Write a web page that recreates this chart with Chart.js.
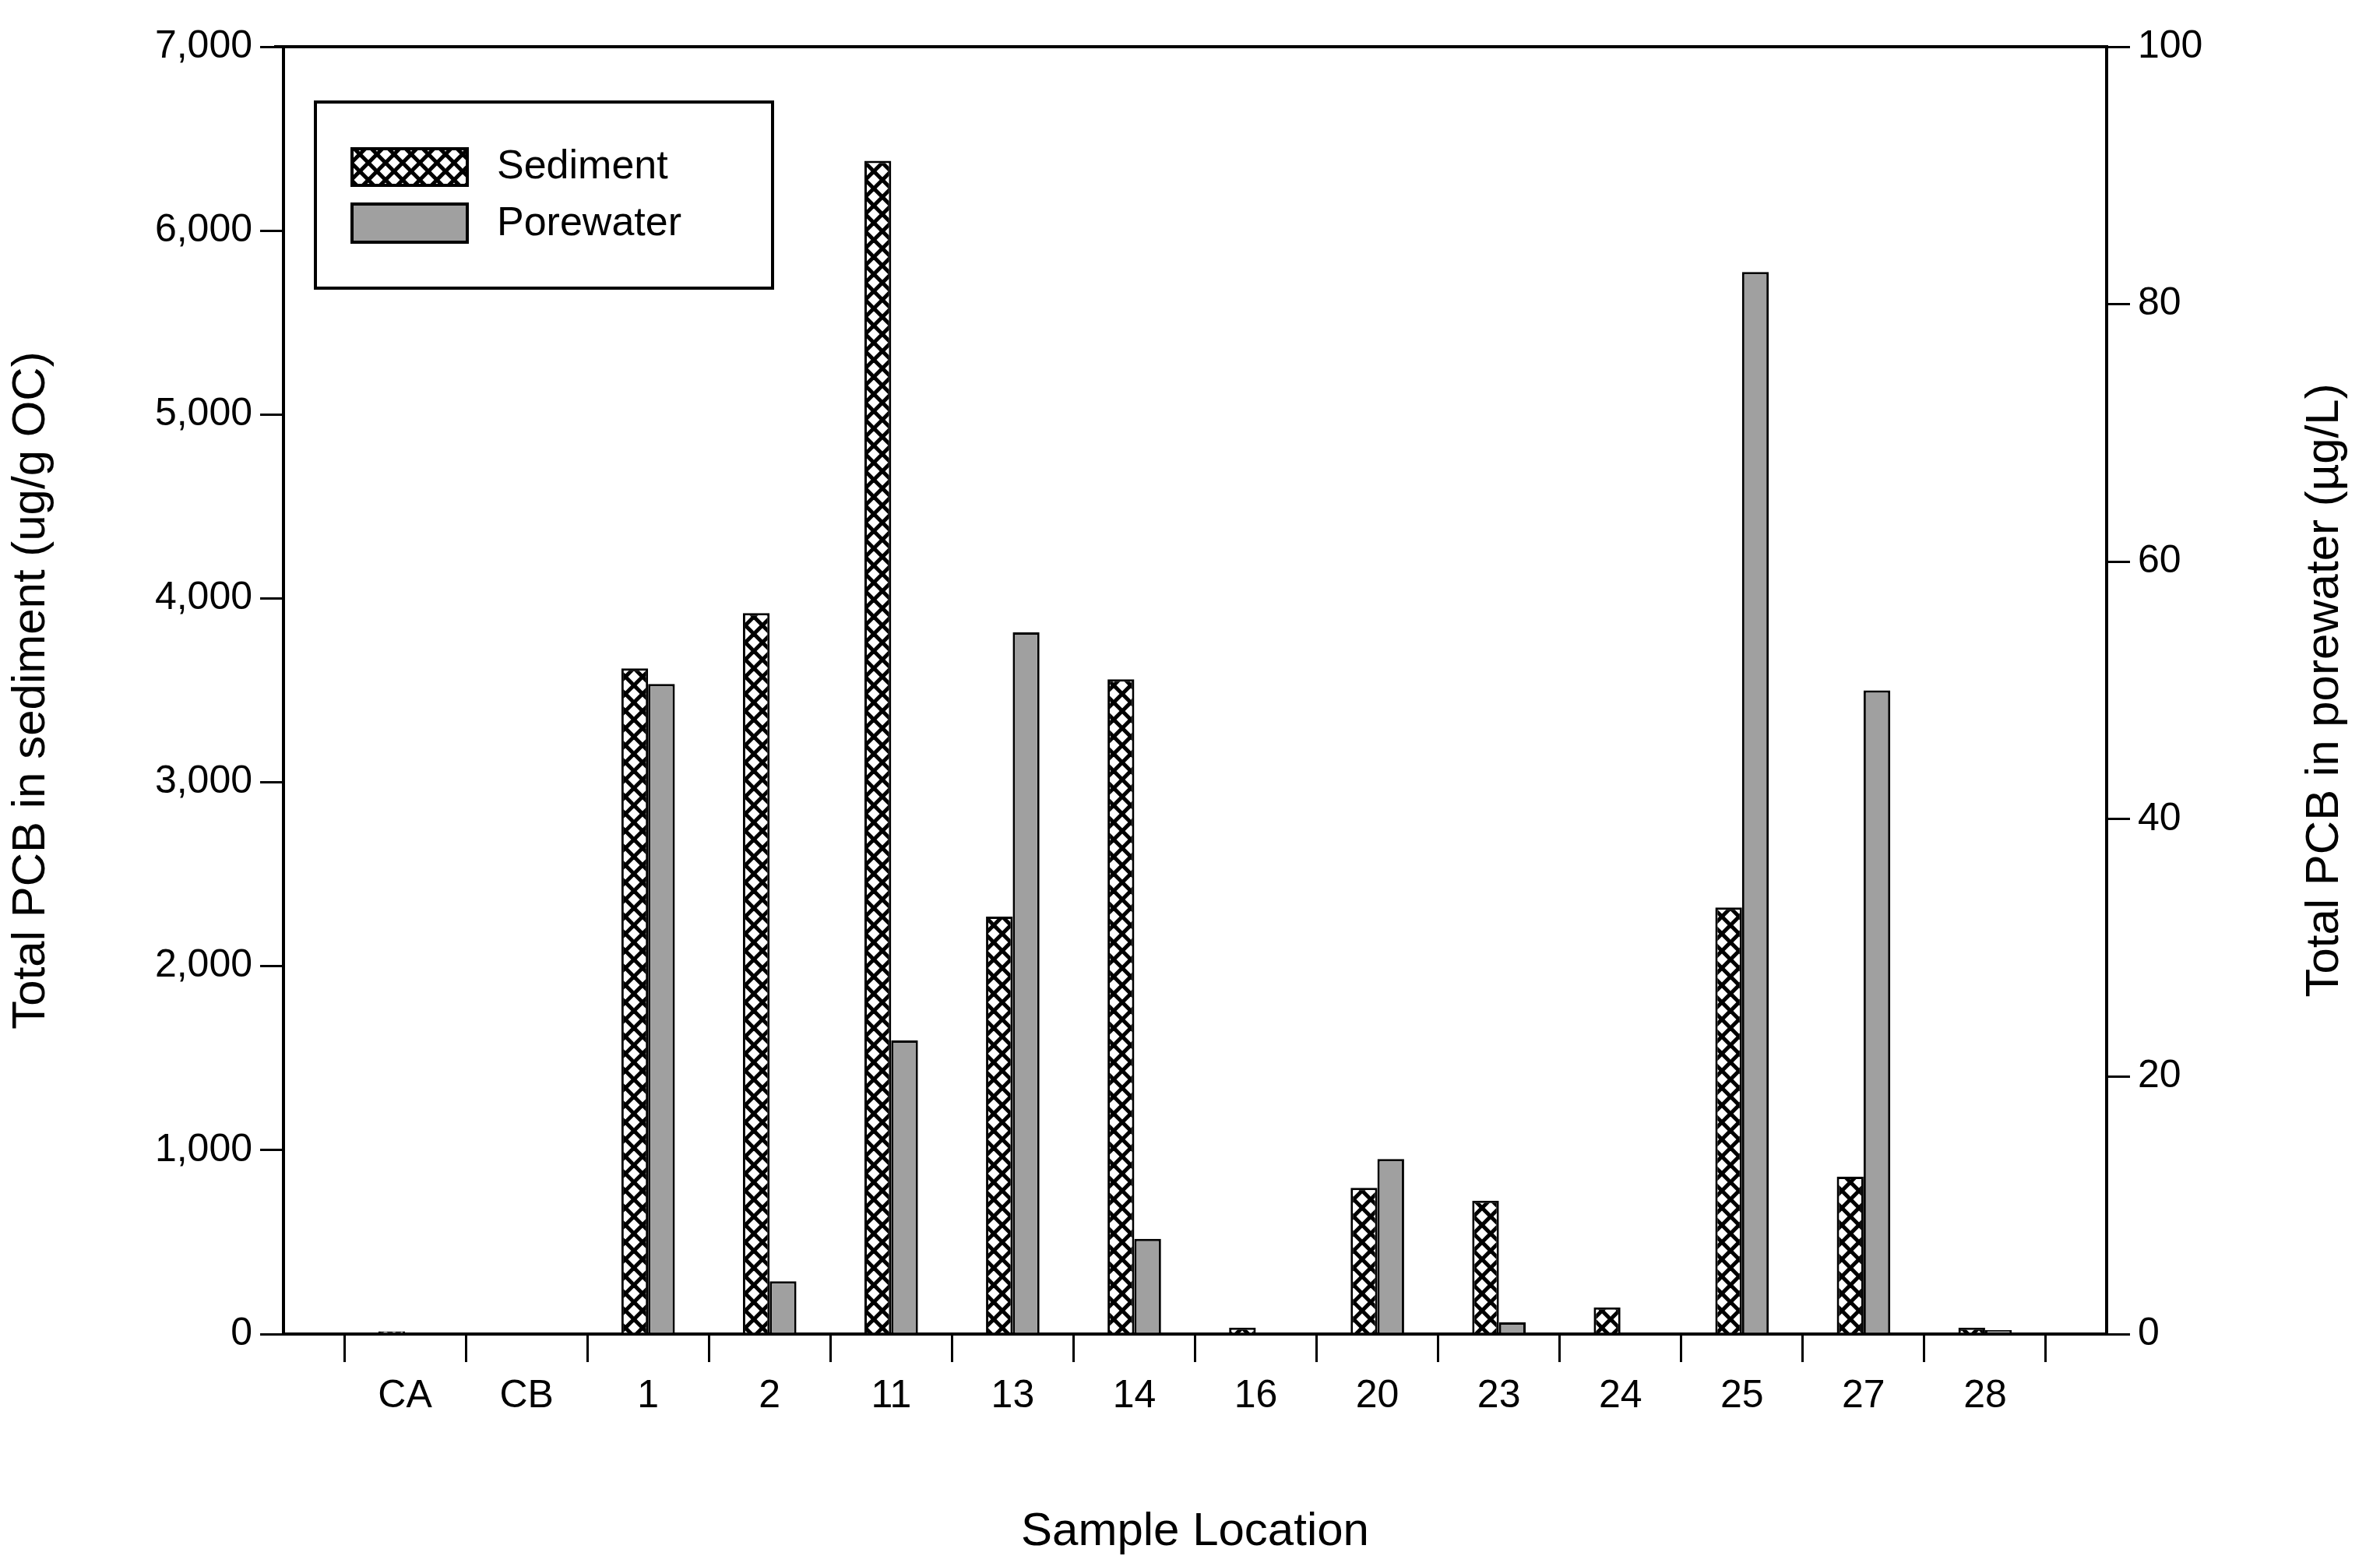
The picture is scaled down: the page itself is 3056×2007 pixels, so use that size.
<!DOCTYPE html>
<html><head><meta charset="utf-8">
<script src="https://cdn.jsdelivr.net/npm/chart.js@4"></script>
<style>html,body{margin:0;padding:0;background:#fff}#w{width:3056px;height:2007px}</style>
</head><body><div id="w"><canvas id="c"></canvas></div>
<script>
const categories = ['CA','CB','1','2','11','13','14','16','20','23','24','25','27','28'];
const sediment = [15,0,3620,3920,6380,2270,3560,35,795,725,145,2320,855,35];
const porewater = [0,0,50.5,4.1,22.8,54.5,7.4,0,13.6,0.9,0,82.5,50,0.3];
const leftTicks = [0,1000,2000,3000,4000,5000,6000,7000];
const rightTicks = [0,20,40,60,80,100];

const FONT = "'Liberation Sans', Arial, sans-serif";
function hatch(){
  const s=22, p=document.createElement('canvas'); p.width=s; p.height=s;
  const g=p.getContext('2d'); g.fillStyle='#fff'; g.fillRect(0,0,s,s);
  g.strokeStyle='#000'; g.lineWidth=5;
  for(let k=-1;k<=1;k++){
    g.beginPath(); g.moveTo(k*s,0); g.lineTo(k*s+s,s); g.stroke();
    g.beginPath(); g.moveTo(k*s+s,0); g.lineTo(k*s,s); g.stroke();
  }
  return g.createPattern(p,'repeat');
}
const hatchPat = hatch();
const labels = [''].concat(categories).concat(['']);
const pad = a => [null].concat(a).concat([null]);

const deco = {
  id:'deco',
  afterDraw(ch){
    const c=ch.ctx, a=ch.chartArea;
    c.save();
    c.strokeStyle='#000'; c.lineWidth=4;
    c.beginPath(); c.moveTo(a.left-12,a.top); c.lineTo(a.right,a.top); c.stroke();
    // legend
    c.lineWidth=4; c.strokeRect(405,131,587,239);
    c.fillStyle=hatchPat; c.fillRect(452,191,148,47);
    c.lineWidth=4; c.strokeRect(452,191,148,47);
    c.fillStyle='#a0a0a0'; c.fillRect(452,262,148,49);
    c.strokeRect(452,262,148,49);
    c.fillStyle='#000'; c.font="52px "+FONT; c.textBaseline='middle'; c.textAlign='left';
    c.fillText('Sediment',638,215); c.fillText('Porewater',638,288);
    // right title
    c.translate(2985,(a.top+a.bottom)/2); c.rotate(-Math.PI/2);
    c.textAlign='center'; c.font="60px "+FONT;
    c.fillText('Total PCB in porewater (\u00b5g/L)',0,0);
    c.restore();
  }
};

new Chart(document.getElementById('c'),{
  type:'bar',
  data:{labels,datasets:[
    {label:'Sediment',data:pad(sediment),yAxisID:'y',backgroundColor:hatchPat,borderColor:'#000',borderWidth:3,borderSkipped:'bottom'},
    {label:'Porewater',data:pad(porewater),yAxisID:'y2',backgroundColor:'#a0a0a0',borderColor:'#000',borderWidth:3,borderSkipped:'bottom'}
  ]},
  plugins:[deco],
  options:{
    responsive:true,maintainAspectRatio:false,animation:false,
    layout:{padding:{top:60,left:0,right:0,bottom:0}},
    plugins:{legend:{display:false},tooltip:{enabled:false}},
    datasets:{bar:{categoryPercentage:0.44,barPercentage:1}},
    scales:{
      x:{type:'category',offset:false,
        grid:{drawOnChartArea:false,color:'#000',lineWidth:3,tickLength:36},
        border:{color:'#000',width:4},
        ticks:{color:'#000',font:{size:50,family:FONT},padding:14,maxRotation:0,autoSkip:false},
        title:{display:true,text:'Sample Location',color:'#000',font:{size:60,family:FONT},padding:{top:40}},
        afterFit(s){s.height=2007-1713;}
      },
      y:{position:'left',min:0,max:7000,
        afterBuildTicks(s){s.ticks=leftTicks.map(v=>({value:v}));},
        grid:{drawOnChartArea:false,color:'#000',lineWidth:3,tickLength:30},
        border:{color:'#000',width:4},
        ticks:{color:'#000',font:{size:50,family:FONT},padding:10},
        title:{display:true,text:'Total PCB in sediment (ug/g OC)',color:'#000',font:{size:60,family:FONT},padding:{bottom:10}},
        afterFit(s){s.width=364;}
      },
      y2:{position:'right',min:0,max:100,
        afterBuildTicks(s){s.ticks=rightTicks.map(v=>({value:v}));},
        grid:{drawOnChartArea:false,color:'#000',lineWidth:3,tickLength:30},
        border:{color:'#000',width:4},
        ticks:{color:'#000',font:{size:50,family:FONT},padding:10},
        afterFit(s){s.width=3056-2705;}
      }
    }
  }
});
</script></body></html>
